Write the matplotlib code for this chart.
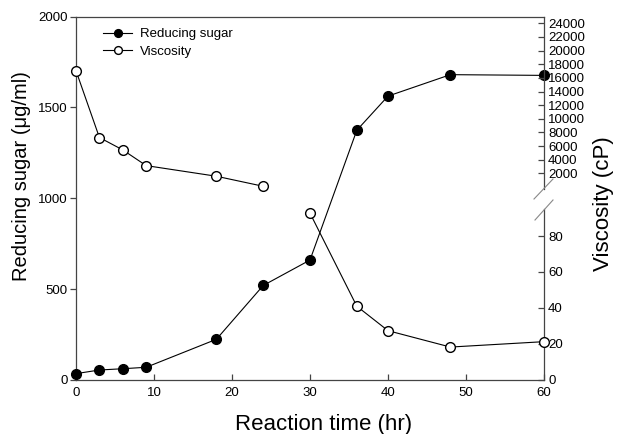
import matplotlib
matplotlib.use("Agg")
import matplotlib.pyplot as plt
from matplotlib.lines import Line2D

plt.rcParams['font.family'] = ['Liberation Sans', 'DejaVu Sans']

# Data
time_sugar = [0, 3, 6, 9, 18, 24, 30, 36, 40, 48, 60]
reducing_sugar = [35, 55, 62, 70, 224, 520, 660, 1374, 1562, 1680, 1676]

time_visc_high = [0, 3, 6, 9, 18, 24]
viscosity_high = [17050, 7250, 5430, 3130, 1570, 100]
time_visc_low = [30, 36, 40, 48, 60]
viscosity_low = [92.7, 41, 27.4, 18.3, 21.3]

x_ticks = [0, 10, 20, 30, 40, 50, 60]
left_ticks = [0, 500, 1000, 1500, 2000]
right_low_ticks = [0, 20, 40, 60, 80]
right_high_ticks = list(range(2000, 24001, 2000))

W, H = 629, 434
fig = plt.figure(figsize=(W / 100, H / 100), dpi=100)

def fx(px):
    return px / W

def fy(py):
    return 1 - py / H

L, R, T, B = 76, 544, 16.5, 380
ax = fig.add_axes([fx(L), fy(B), fx(R) - fx(L), fy(T) - fy(B)])
ax.set_xlim(0, 60)
ax.set_ylim(0, 2000)
ax.spines['right'].set_visible(False)
for s in ['left', 'top', 'bottom']:
    ax.spines[s].set_linewidth(0.9)
    ax.spines[s].set_color('#444444')
ax.set_xticks(x_ticks)
ax.set_yticks(left_ticks)
ax.tick_params(axis='x', direction='in', length=4, width=0.9, labelsize=9.5, pad=5, colors='#444444', labelcolor='black')
ax.tick_params(axis='y', direction='out', length=4, width=0.9, labelsize=9.5, pad=2, colors='#444444', labelcolor='black')

fig.text(fx(323.5), fy(430), 'Reaction time (hr)', fontsize=16,
         ha='center', va='baseline')
fig.text(fx(22), fy(176), 'Reducing sugar (\u03bcg/ml)', fontsize=14.5,
         rotation=90, ha='center', va='center')

l1, = ax.plot(time_sugar, reducing_sugar, '-o', color='black', lw=0.8,
              markersize=7, markerfacecolor='black', markeredgecolor='black',
              clip_on=False, zorder=3)

# Lower right axis
low_top = 209
axl = fig.add_axes([fx(L), fy(B), fx(R) - fx(L), fy(low_top) - fy(B)])
axl.patch.set_visible(False)
axl.set_xlim(0, 60)
axl.set_ylim(0, 95)
for s in ['left', 'top', 'bottom']:
    axl.spines[s].set_visible(False)
axl.spines['right'].set_linewidth(0.9)
axl.spines['right'].set_color('#444444')
axl.set_xticks([])
axl.yaxis.tick_right()
axl.set_yticks(right_low_ticks)
axl.tick_params(axis='y', direction='in', length=4, width=0.9, labelsize=9.5, pad=3, colors='#444444', labelcolor='black')
l2, = axl.plot(time_visc_low, viscosity_low, '-o', color='black', lw=0.8,
               markersize=7, markerfacecolor='white', markeredgecolor='black',
               clip_on=False, zorder=3)

# Upper right axis
up_bot = 189
axu = fig.add_axes([fx(L), fy(up_bot), fx(R) - fx(L), fy(T) - fy(up_bot)])
axu.patch.set_visible(False)
axu.set_xlim(0, 60)
axu.set_ylim(-300, 25000)
for s in ['left', 'top', 'bottom']:
    axu.spines[s].set_visible(False)
axu.spines['right'].set_linewidth(0.9)
axu.spines['right'].set_color('#444444')
axu.set_xticks([])
axu.yaxis.tick_right()
axu.set_yticks(right_high_ticks)
axu.tick_params(axis='y', direction='in', length=4, width=0.9, labelsize=9.5, pad=3, colors='#444444', labelcolor='black')
axu.plot(time_visc_high, viscosity_high, '-o', color='black', lw=0.8,
         markersize=7, markerfacecolor='white', markeredgecolor='black',
         clip_on=False, zorder=3)

# Right label
fig.text(fx(604), fy(204), 'Viscosity (cP)', rotation=90, fontsize=16,
         ha='center', va='center')

# Break marks
for (x0, y0, x1, y1) in [(534, 199, 553, 179), (535, 220, 553, 200)]:
    fig.add_artist(Line2D([fx(x0), fx(x1)], [fy(y0), fy(y1)],
                          transform=fig.transFigure, color='#888888', lw=0.8))

# Legend
ax.legend([l1, l2], ['Reducing sugar', 'Viscosity'], loc='upper left',
          bbox_to_anchor=(fx(103), fy(28)), bbox_transform=fig.transFigure,
          frameon=False, fontsize=9.5, handlelength=2.2, handletextpad=0.6,
          borderpad=0, borderaxespad=0, labelspacing=0.4, markerscale=0.8)

fig.savefig('out.png', dpi=100)
